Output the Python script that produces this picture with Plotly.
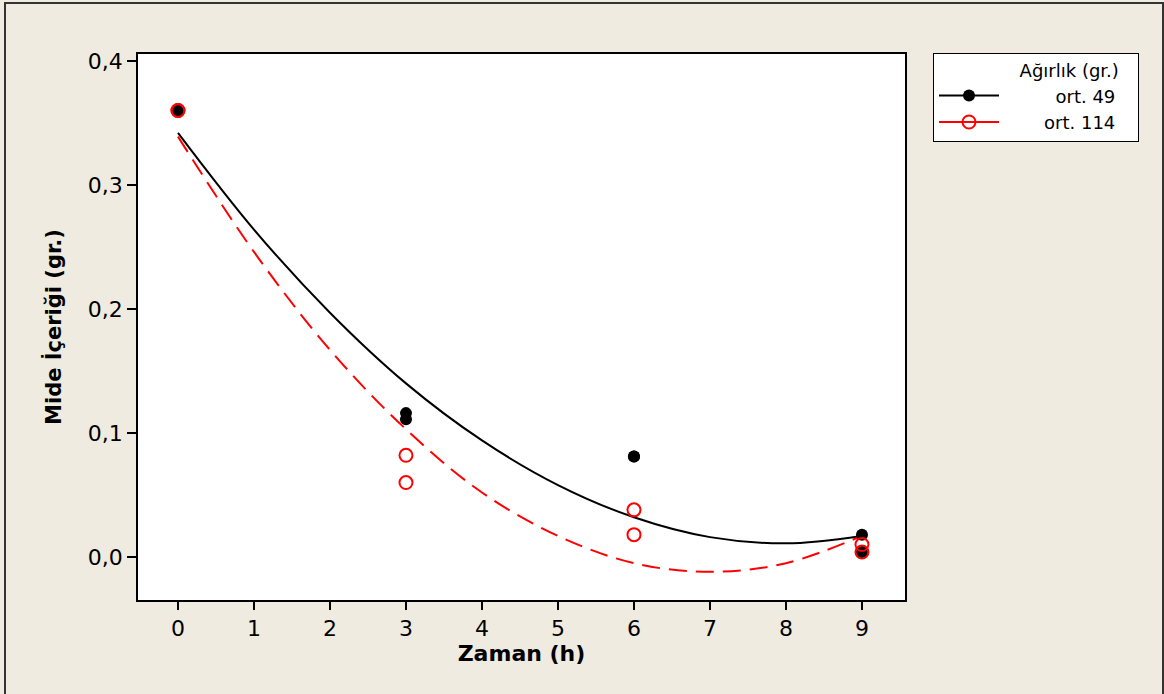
import plotly.graph_objects as go

# ---- data ----
time_49 = [0, 0, 3, 3, 6, 6, 9, 9]
gut_49 = [0.360, 0.360, 0.116, 0.111, 0.081, 0.081, 0.018, 0.004]
time_114 = [0, 0, 3, 3, 6, 6, 9, 9]
gut_114 = [0.360, 0.360, 0.082, 0.060, 0.038, 0.018, 0.010, 0.004]

# fitted curves at each hour
fit_x = [0, 1, 2, 3, 4, 5, 6, 7, 8, 9]
fit_49 = [0.342, 0.264, 0.197, 0.140, 0.094, 0.058, 0.032, 0.016, 0.011, 0.017]
fit_114 = [0.339, 0.246, 0.167, 0.103, 0.052, 0.017, -0.005, -0.012, -0.005, 0.017]

x_ticks = [0, 1, 2, 3, 4, 5, 6, 7, 8, 9]
y_ticks = [0.0, 0.1, 0.2, 0.3, 0.4]
y_tick_labels = ["0,0", "0,1", "0,2", "0,3", "0,4"]

legend_title = "Ağırlık (gr.)"
legend_names = ["ort. 49", "ort. 114"]

W, H = 1164, 694
L, R, T, B = 138, 905, 54, 600
pw, ph = R - L, B - T


def px(xp):
    return (xp - L) / pw


def py(yp):
    return (B - yp) / ph


NB = "&nbsp;"

fig = go.Figure()

fig.add_trace(go.Scatter(x=fit_x, y=fit_49, mode="lines",
                         line=dict(color="black", width=2, shape="spline"),
                         showlegend=False, hoverinfo="skip"))
fig.add_trace(go.Scatter(x=fit_x, y=fit_114, mode="lines",
                         line=dict(color="#FF0000", width=2, dash="18px,9px", shape="spline"),
                         showlegend=False, hoverinfo="skip"))
fig.add_trace(go.Scatter(x=time_49, y=gut_49, mode="markers",
                         marker=dict(symbol="circle", size=12, color="black"), showlegend=False))
fig.add_trace(go.Scatter(x=time_114, y=gut_114, mode="markers",
                         marker=dict(symbol="circle-open", size=13, color="#FF0000", line=dict(width=2)),
                         showlegend=False))

# legend entries (right-aligned look, as in the reference)
fig.add_trace(go.Scatter(x=[None], y=[None], mode="lines+markers",
                         name=NB * 9 + legend_names[0] + NB * 3,
                         line=dict(color="black", width=2),
                         marker=dict(symbol="circle", size=12, color="black")))
fig.add_trace(go.Scatter(x=[None], y=[None], mode="lines+markers",
                         name=NB * 7 + legend_names[1] + NB * 3,
                         line=dict(color="#FF0000", width=2),
                         marker=dict(symbol="circle-open", size=13, color="#FF0000", line=dict(width=2))))

font_family = "DejaVu Sans"

fig.update_layout(
    width=W, height=H,
    margin=dict(l=L, r=W - R, t=T, b=H - B, pad=0),
    paper_bgcolor="#EFEBE0",
    plot_bgcolor="white",
    font=dict(family=font_family, color="black", size=22),
    showlegend=True,
    legend=dict(
        x=px(933), y=py(53), xanchor="left", yanchor="top",
        bgcolor="white", bordercolor="black", borderwidth=1,
        font=dict(size=18, family=font_family),
        title=dict(text=legend_title + NB * 3, side="top right",
                   font=dict(size=18, family=font_family)),
        itemwidth=60,
        tracegroupgap=0,
    ),
    xaxis=dict(
        range=[-0.526, 9.566], tickmode="array", tickvals=x_ticks,
        ticks="outside", ticklen=8, tickwidth=1.5, tickcolor="black",
        showgrid=False, zeroline=False, showline=True, linecolor="black", linewidth=1.5, mirror=True,
        tickfont=dict(size=22, family=font_family),
        title=dict(text="<b>Zaman (h)</b>", font=dict(size=22, family=font_family), standoff=5),
    ),
    yaxis=dict(
        range=[-0.0347, 0.4056], tickmode="array", tickvals=y_ticks, ticktext=y_tick_labels,
        ticks="outside", ticklen=9, tickwidth=1.5, tickcolor="black",
        showgrid=False, zeroline=False, showline=True, linecolor="black", linewidth=1.5, mirror=True,
        tickfont=dict(size=22, family=font_family),
        title=dict(text="<b>Mide İçeriği (gr.)</b>", font=dict(size=21, family=font_family), standoff=20),
    ),
    shapes=[
        dict(type="rect", xref="paper", yref="paper",
             x0=px(5), x1=px(1163), y0=py(700), y1=py(3),
             line=dict(color="#333333", width=2), fillcolor="rgba(0,0,0,0)", layer="below"),
    ],
)

fig.write_html("out.html")
